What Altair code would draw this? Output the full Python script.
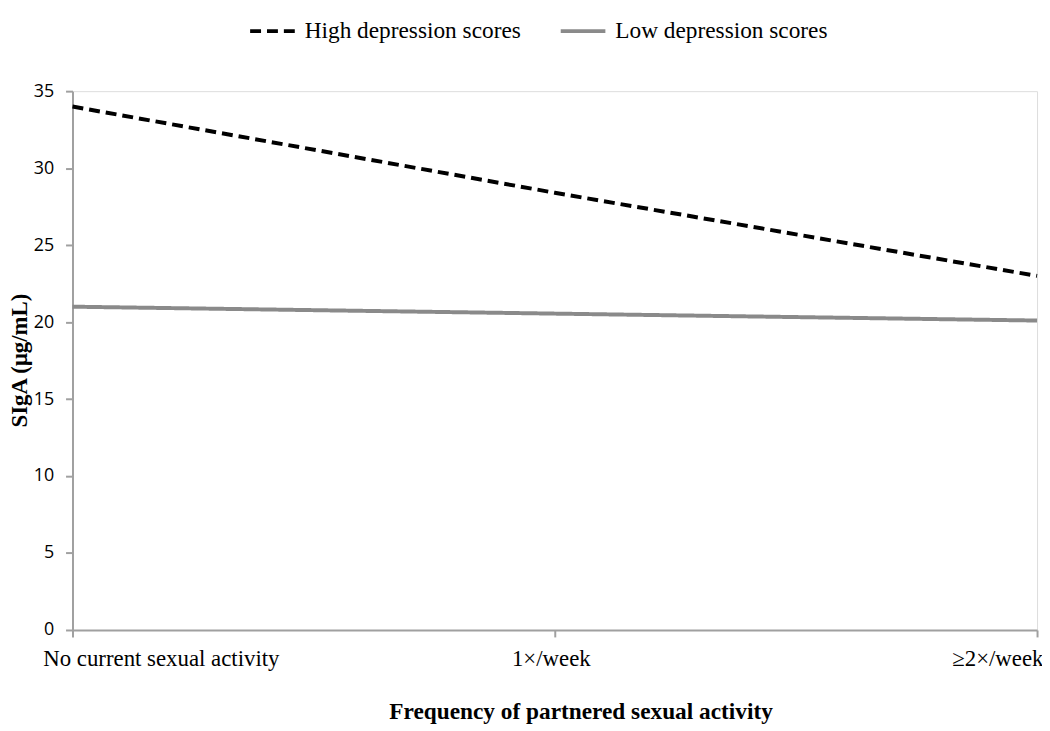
import altair as alt
import pandas as pd

categories = ["No current sexual activity", "1×/week", "≥2×/week"]
series_names = ["High depression scores", "Low depression scores"]
high_values = [34.0, 28.4, 23.0]
low_values = [21.0, 20.55, 20.1]

rows = []
for c, v in zip(categories, high_values):
    rows.append({"freq": c, "siga": v, "group": series_names[0]})
for c, v in zip(categories, low_values):
    rows.append({"freq": c, "siga": v, "group": series_names[1]})
df = pd.DataFrame(rows)

serif = "Liberation Serif"
sans = "Open Sans"

legend_opts = dict(title=None, orient="none", legendX=177, legendY=-85,
                   direction="horizontal", symbolType="stroke",
                   symbolSize=2025, symbolStrokeWidth=4,
                   labelFont=serif, labelFontSize=23.5, labelColor="black",
                   labelOffset=8, columnPadding=32, labelLimit=400)

chart = alt.Chart(df).mark_line(strokeWidth=4).encode(
    x=alt.X("freq:N", sort=categories,
            scale=alt.Scale(type="point", padding=0),
            axis=alt.Axis(title="Frequency of partnered sexual activity",
                          labelAngle=0, labelFont=serif, labelFontSize=23,
                          labelColor="black", labelPadding=11, labelLimit=400,
                          labelFlush=True,
                          labelOffset=alt.expr("datum.index == 0 ? -30 : datum.index == 1 ? 6 : -4"),
                          tickSize=7, tickColor="#a0a0a0", tickWidth=2,
                          domainColor="#a0a0a0", domainWidth=2,
                          titleFont=serif, titleFontSize=23.5, titleFontWeight="bold",
                          titleColor="black", titleX=512, titleY=82,
                          titleBaseline="middle", titleAnchor="middle",
                          grid=False)),
    y=alt.Y("siga:Q",
            scale=alt.Scale(domain=[0, 35], nice=False),
            axis=alt.Axis(title="SIgA (μg/mL)", values=[0, 5, 10, 15, 20, 25, 30, 35],
                          labelFont=sans, labelFontSize=18, labelColor="black",
                          labelPadding=12, tickSize=7, tickColor="#a0a0a0", tickWidth=2,
                          domainColor="#a0a0a0", domainWidth=2,
                          titleFont=serif, titleFontSize=23, titleFontWeight="bold",
                          titleColor="black", titleX=-53, titleY=271,
                          titleBaseline="middle", titleAnchor="middle",
                          grid=False)),
    color=alt.Color("group:N", sort=series_names,
                    scale=alt.Scale(domain=series_names, range=["#000000", "#8a8a8a"]),
                    legend=alt.Legend(**legend_opts)),
    strokeDash=alt.StrokeDash("group:N", sort=series_names,
                              scale=alt.Scale(domain=series_names, range=[[11, 6], [1, 0]]),
                              legend=alt.Legend(**legend_opts)),
).properties(
    width=972, height=543,
    autosize=alt.AutoSizeParams(type="none"),
    padding={"left": 65, "top": 81, "right": 5, "bottom": 99},
).configure_view(stroke=None).configure(background="white")

chart.save("out.html", embed_options={"renderer": "svg", "actions": False})
